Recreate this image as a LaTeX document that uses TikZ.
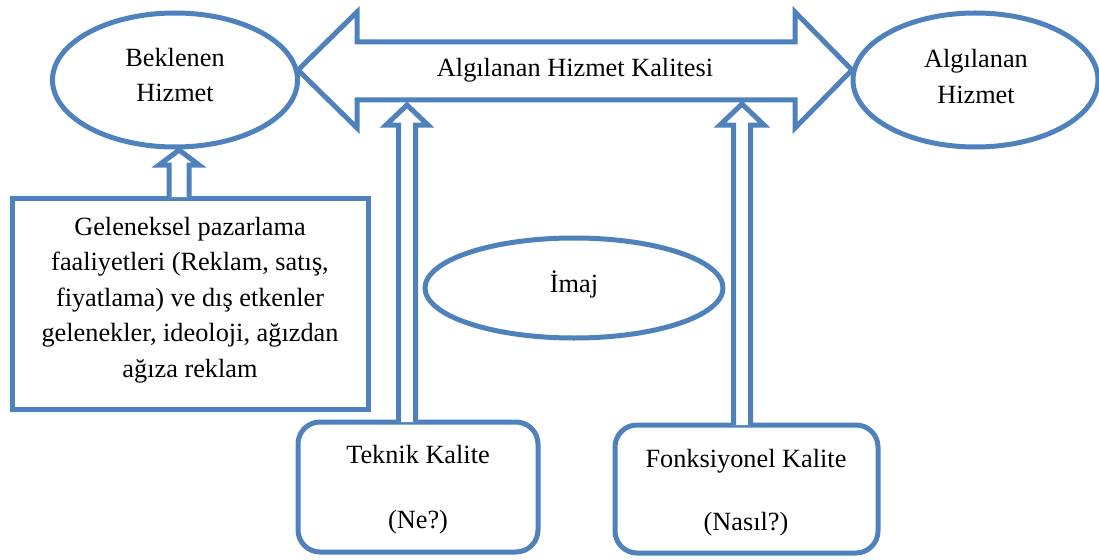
\documentclass[tikz,border=0pt]{standalone}
\usepackage{fontspec}
\setmainfont{Liberation Serif}
\usetikzlibrary{shapes.geometric}
\definecolor{accent}{RGB}{79,129,189}
\begin{document}
\begin{tikzpicture}[x=1pt,y=-1pt,
  outline/.style={draw=accent, line width=5pt},
  oval/.style={outline, ellipse, inner sep=0pt},
  boxshape/.style={outline, rectangle, inner sep=0pt},
  roundbox/.style={outline, rectangle, rounded corners=22pt, inner sep=0pt},
  blockarrow/.style={outline, fill=white, line join=miter},
  txt/.style={font=\fontsize{26.3}{35.5}\selectfont, align=center, anchor=base, inner sep=0pt, text=black}
]
\useasboundingbox (0,0) rectangle (1099,559);

% ovals
\node[oval, minimum width=245pt, minimum height=134pt] (expected) at (175,80) {};
\node[oval, minimum width=245pt, minimum height=134pt] (perceived) at (975.5,80) {};
\node[oval, minimum width=298pt, minimum height=100pt] (image) at (574,288) {};

% boxes
\node[boxshape, minimum width=356pt, minimum height=211pt] (trad) at (190,303.5) {};
\node[roundbox, minimum width=240pt, minimum height=130pt] (tech) at (418,487) {};
\node[roundbox, minimum width=263pt, minimum height=128pt] (func) at (746.5,489) {};

% double-headed block arrow between the two ovals
\draw[blockarrow] (298,70) -- (357,12) -- (357,42) -- (795,42) -- (795,12)
  -- (852,70) -- (795,128) -- (795,100) -- (357,100) -- (357,128) -- cycle;

% upward block arrows
\draw[blockarrow] (169,197) -- (169,165) -- (159,165) -- (179,150)
  -- (199,165) -- (189,165) -- (189,197);
\draw[blockarrow] (398.5,422) -- (398.5,125) -- (386,125) -- (407,105)
  -- (428,125) -- (415.5,125) -- (415.5,422);
\draw[blockarrow] (733.5,425) -- (733.5,125) -- (720,125) -- (742,104)
  -- (764,125) -- (750.5,125) -- (750.5,425);

% texts (base anchor sits on the last line's baseline)
\node[txt] (expectedT) at (175,102) {Beklenen\\Hizmet};
\node[txt] (perceivedT) at (976,103) {Algılanan\\Hizmet};
\node[txt] (quality) at (575,77) {Algılanan Hizmet Kalitesi};
\node[txt] (imageT) at (574,292) {İmaj};
\node[txt] (tradT) at (190,377) {Geleneksel pazarlama\\faaliyetleri (Reklam, satış,\\fiyatlama) ve dış etkenler\\gelenekler, ideoloji, ağızdan\\ağıza reklam};
\node[txt] (techT) at (418,528) {Teknik Kalite\\[29.5pt](Ne?)};
\node[txt] (funcT) at (746,530) {Fonksiyonel Kalite\\[27.5pt](Nasıl?)};
\end{tikzpicture}
\end{document}
